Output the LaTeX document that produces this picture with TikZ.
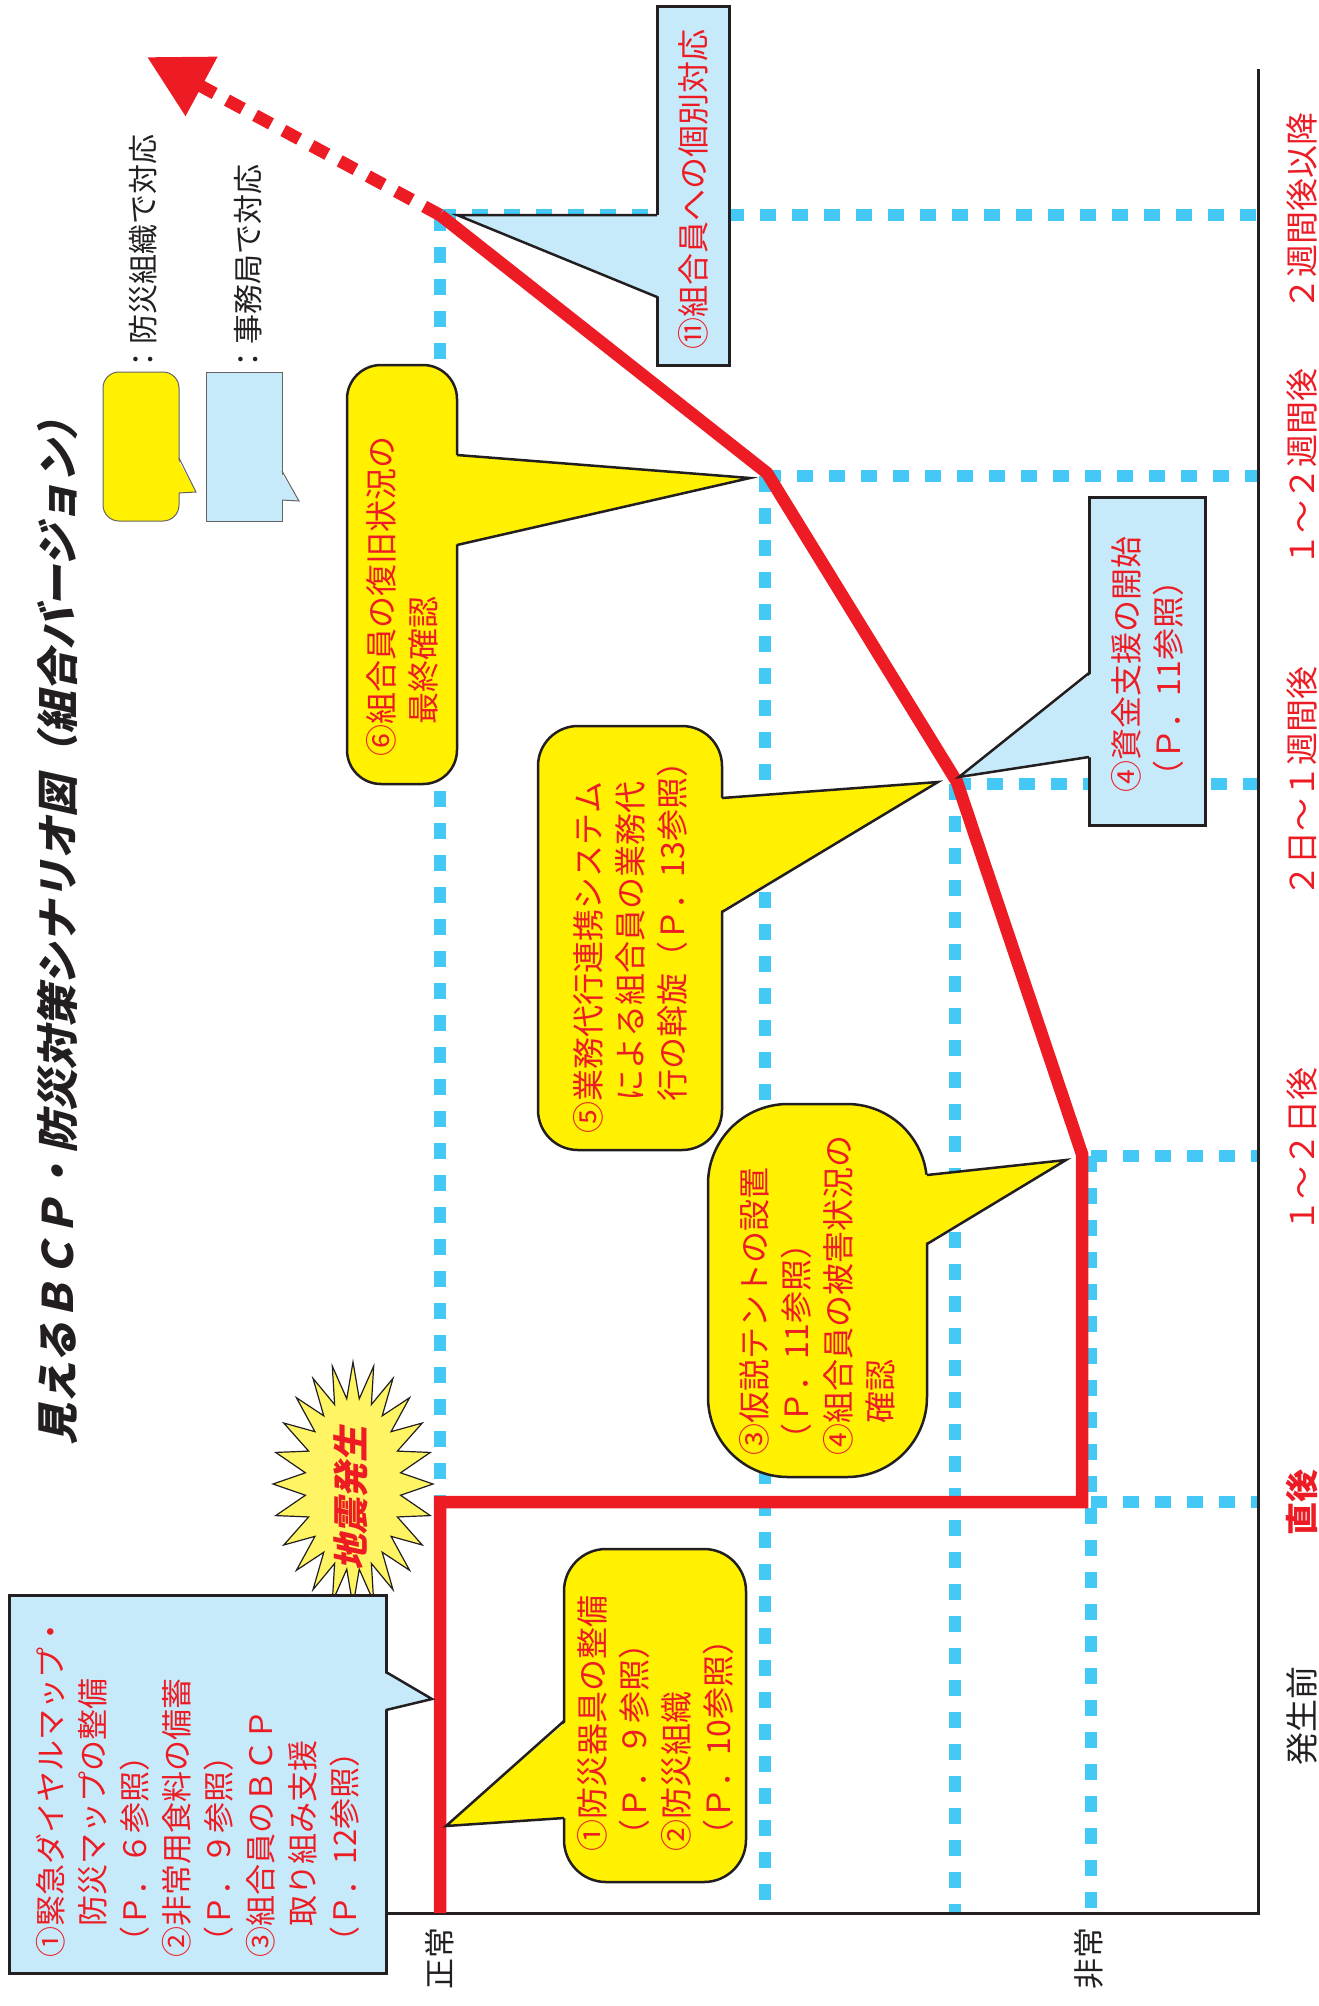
\documentclass[tikz,border=0pt]{standalone}
\usepackage{fontspec}
\newfontfamily\jp{Noto Sans CJK JP}
\newfontfamily\jpslant[FakeSlant=0.22]{Noto Sans CJK JP}
\usetikzlibrary{arrows.meta}
\definecolor{Alarm}{HTML}{ED1C24}
\definecolor{Ink}{HTML}{231F20}
\definecolor{Sky}{HTML}{44C8F5}
\definecolor{SkySoft}{HTML}{C7EAFA}
\definecolor{Lemon}{HTML}{FFF100}
\definecolor{Burst}{HTML}{FFF463}
\tikzset{
  note/.style={rotate=90,align=left,text=Alarm,font=\jp\fontsize{32}{42}\selectfont,draw=Ink,line width=2.5pt,inner ysep=0pt},
  yellownote/.style={note,fill=Lemon},
  bluenote/.style={note,fill=SkySoft,line width=3pt},
  edge/.style={draw=Ink,line width=2.5pt},
  guide/.style={draw=Sky,line width=12pt,dash pattern=on 16pt off 16pt},
  axisline/.style={draw=Ink,line width=3pt},
  level/.style={draw=Alarm,line width=12.5pt},
  outlook/.style={draw=Alarm,line width=12.5pt,dash pattern=on 18pt off 14pt,-{Triangle[length=62pt,width=64pt]}},
  burst/.style={fill=Burst,draw=Ink,line width=1.2pt},
  shock/.style={rotate=90,text=Alarm,font=\jpslant\bfseries\fontsize{36}{36}\selectfont,inner sep=0pt},
  heading/.style={rotate=90,text=Ink,font=\jpslant\bfseries\fontsize{42}{42}\selectfont,inner sep=0pt},
  period/.style={rotate=90,text=Alarm,font=\jp\fontsize{33}{33}\selectfont,inner sep=0pt},
  state/.style={rotate=90,text=Ink,font=\jp\fontsize{31}{31}\selectfont,inner sep=0pt},
  keybox/.style={draw=Ink!70,line width=1pt,minimum width=76pt,minimum height=149pt,inner sep=0pt},
  key/.style={draw=Ink!70,line width=1pt},
  keytext/.style={rotate=90,anchor=west,text=Ink,font=\jp\fontsize{30}{30}\selectfont,inner sep=0pt}
}
\begin{document}
\begin{tikzpicture}[x=1pt,y=-1pt]
  \useasboundingbox (0,0) rectangle (1319,2006);
  \coordinate (p0) at (440,1913);
  \coordinate (p1) at (440,1502);
  \coordinate (p2) at (1082,1502);
  \coordinate (p3) at (1082,1154);
  \coordinate (p4) at (957,782);
  \coordinate (p5) at (767,473);
  \coordinate (p6) at (440,215);
  \coordinate (p7) at (147,57);
  \coordinate (corner) at (1258,1913);
  \coordinate (axistop) at (1258,69);

  \draw[guide] (p6) -- (p1);
  \draw[guide] (p6) -- (1258,215);
  \draw[guide] (765,476) -- (1258,476);
  \draw[guide] (765,476) -- (765,1913);
  \draw[guide] (955,784) -- (1258,784);
  \draw[guide] (955,784) -- (955,1913);
  \draw[guide] (1091,1156) -- (1258,1156);
  \draw[guide] (1091,1156) -- (1091,1913);
  \draw[guide] (1091,1502) -- (1258,1502);
  \draw[axisline] (387,1913) -- (corner) -- (axistop);

  \draw[level] (p0) -- (p1) -- (p2) -- (p3) -- (p4) -- (p5) -- (p6);
  \draw[outlook] (p6) -- (p7);

  \draw[burst] plot[domain=0:360,samples=49,variable=\t]
    ({353+(80-32*mod(round(\t/7.5),2))*cos(\t)},{1484+(122-36*mod(round(\t/7.5),2))*sin(\t)}) -- cycle;
  \node[shock] (quake) at (351,1498) {地震発生};

  \node[heading] (title) at (58,922) {見えるＢＣＰ・防災対策シナリオ図（組合バージョン）};

  \node[keybox,fill=Lemon,rounded corners=16pt] (keyorg) at (141,446.5) {};
  \fill[Lemon] (177,458) -- (196,492) -- (177,493) -- cycle;
  \draw[key] (179,458) -- (196,492) -- (179,493);
  \node[keybox,fill=SkySoft] (keyoffice) at (244,446.5) {};
  \fill[SkySoft] (280,471) -- (299,501) -- (280,500) -- cycle;
  \draw[key] (282,471) -- (299,501) -- (282,500);
  \node[keytext] (keyorgtext) at (143,375) {：防災組織で対応};
  \node[keytext] (keyofficetext) at (248,375) {：事務局で対応};

  \node[bluenote,font=\jp\fontsize{31}{42}\selectfont,minimum width=378pt,minimum height=377pt,text width=346pt,inner xsep=16pt] (prepare) at (197.5,1784)
    {①緊急ダイヤルマップ・\\　防災マップの整備\\（Ｐ．６参照）\\②非常用食料の備蓄\\（Ｐ．９参照）\\③組合員のＢＣＰ\\　取り組み支援\\（Ｐ．12参照）};
  \fill[SkySoft] (383,1672) -- (432,1699) -- (383,1710) -- cycle;
  \draw[edge] (386,1672) -- (432,1699) -- (386,1710);

  \node[yellownote,rounded corners=42pt,minimum width=333pt,minimum height=182pt,text width=271pt,inner xsep=31pt] (equip) at (655,1715.5)
    {①防災器具の整備\\（Ｐ．９参照）\\②防災組織\\（Ｐ．10参照）};
  \fill[Lemon] (567,1721) -- (446,1826) -- (567,1818) -- cycle;
  \draw[edge] (564,1721) -- (446,1826) -- (564,1818);

  \node[yellownote,rounded corners=80pt,minimum width=373pt,minimum height=219pt,text width=329pt,inner xsep=22pt] (tent) at (817.5,1290.5)
    {③仮説テントの設置\\（Ｐ．11参照）\\④組合員の被害状況の\\　確認};
  \fill[Lemon] (924,1175) -- (1066,1160) -- (924,1244) -- cycle;
  \draw[edge] (927,1175) -- (1066,1160) -- (927,1244);

  \node[yellownote,rounded corners=40pt,minimum width=424pt,minimum height=184pt,text width=390pt,inner xsep=17pt] (proxy) at (630,938)
    {⑤業務代行連携システム\\　による組合員の業務代\\　行の斡旋（Ｐ．13参照）};
  \fill[Lemon] (719,798) -- (938,782) -- (719,912) -- cycle;
  \draw[edge] (722,798) -- (938,782) -- (722,912);

  \node[yellownote,rounded corners=34pt,minimum width=419pt,minimum height=110pt,text width=363pt,inner xsep=28pt] (final) at (402,574.5)
    {⑥組合員の復旧状況の\\　最終確認};
  \fill[Lemon] (454,455) -- (750,478) -- (454,545) -- cycle;
  \draw[edge] (457,455) -- (750,478) -- (457,545);

  \node[bluenote,minimum width=328pt,minimum height=116pt,text width=262pt,inner xsep=33pt] (funds) at (1147,661)
    {④資金支援の開始\\（Ｐ．11参照）};
  \fill[SkySoft] (1092,673) -- (959,777) -- (1092,757) -- cycle;
  \draw[edge] (1089,673) -- (959,777) -- (1089,757);

  \node[bluenote,minimum width=359pt,minimum height=72pt,text width=327pt,inner xsep=16pt] (single) at (693,185.5)
    {⑪組合員への個別対応};
  \fill[SkySoft] (660,215) -- (457,215) -- (660,297) -- cycle;
  \draw[edge] (657,215) -- (457,215) -- (657,297);

  \node[state] (normal) at (440,1958) {正常};
  \node[state] (crisis) at (1089,1958) {非常};
  \node[period,text=Ink] (before) at (1302,1716) {発生前};
  \node[period,font=\jp\bfseries\fontsize{33}{33}\selectfont] (now) at (1302,1502) {直後};
  \node[period] (days) at (1302,1150) {１～２日後};
  \node[period] (week) at (1302,782) {２日～１週間後};
  \node[period] (weeks) at (1302,467) {１～２週間後};
  \node[period] (later) at (1302,211) {２週間後以降};
\end{tikzpicture}
\end{document}
